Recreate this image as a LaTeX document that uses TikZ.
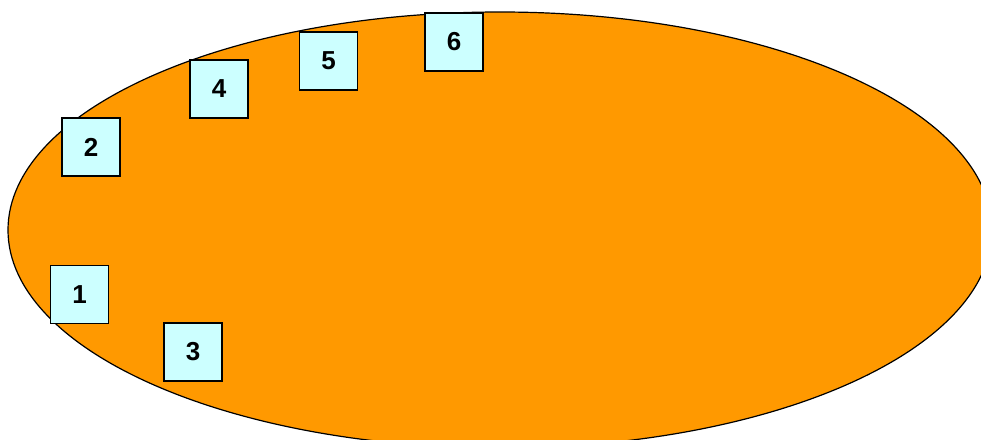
\documentclass[tikz,border=0pt]{standalone}
\usepackage{fontspec}
\setmainfont{Liberation Sans}
\usepackage{xcolor}
\usepackage{tikz}
\definecolor{ovalorange}{HTML}{FF9900}
\definecolor{boxcyan}{HTML}{CCFFFF}

\begin{document}
\begin{tikzpicture}[
    x=1pt, y=-1pt,
    every node/.style={font=\fontsize{26}{26}\selectfont\bfseries},
    numbox/.style={draw, line width=1.4pt, fill=boxcyan, minimum size=58pt, inner sep=0pt}
]
\useasboundingbox (0,0) rectangle (981,439);
\clip (0,0) rectangle (981,439);
\draw[fill=ovalorange, line width=1.2pt] (500,230) ellipse [x radius=492pt, y radius=218pt];
\node[numbox] (n1) at (79.5,294.5) {1};
\node[numbox] (n2) at (91,147) {2};
\node[numbox] (n3) at (193,352) {3};
\node[numbox] (n4) at (219,89) {4};
\node[numbox] (n5) at (328.5,61) {5};
\node[numbox] (n6) at (454,42) {6};
\end{tikzpicture}
\end{document}
